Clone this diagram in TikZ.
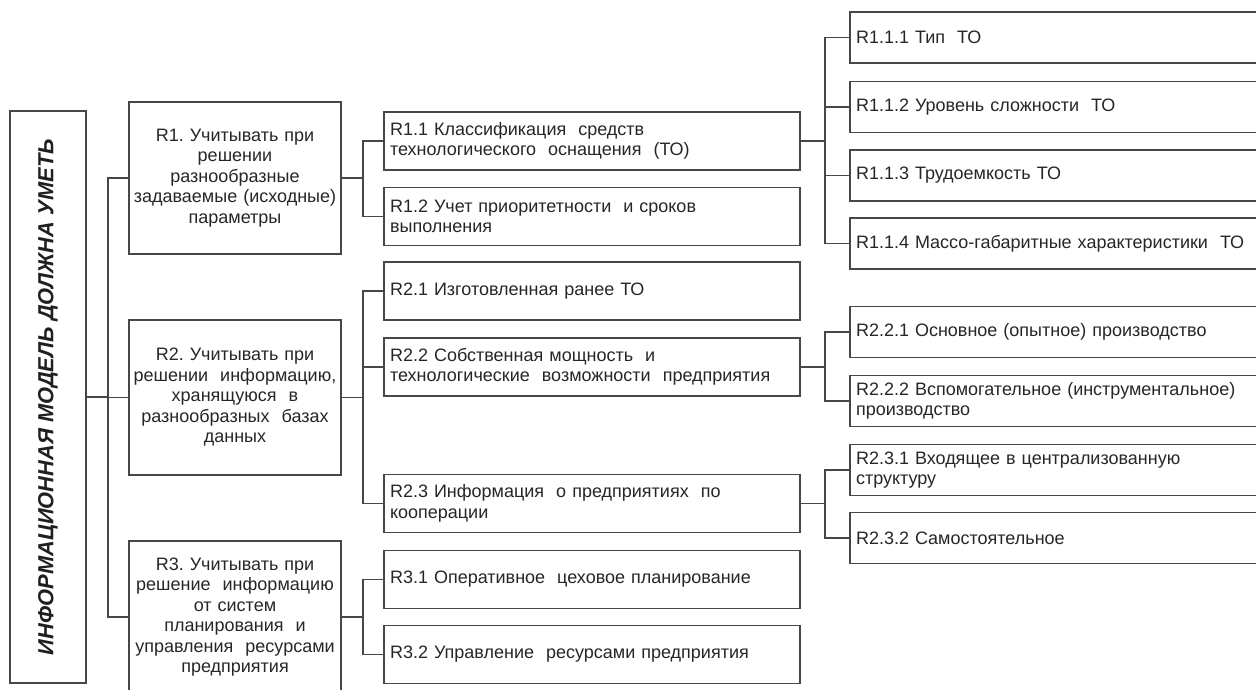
\documentclass[tikz,border=0pt]{standalone}
\usepackage{fontspec}
\setmainfont{Liberation Sans}
\usepackage{graphicx}
\frenchspacing
\begin{document}
\begin{tikzpicture}[x=1pt,y=-1pt,
  ln/.style={line width=1.2pt, draw=black!72},
  basebox/.style={ln, rectangle, inner ysep=0pt, font=\fontsize{18}{20.5}\selectfont, text=black!85},
  topbox/.style={basebox, inner xsep=0pt, align=center, text width=212pt, minimum height=#1},
  midbox/.style={basebox, inner xsep=6pt, align=left, text width=404pt, minimum height=58pt},
  rbox/.style={basebox, inner xsep=6pt, align=left, text width=400pt, minimum height=51pt}]
\useasboundingbox (0,0) rectangle (1256,690);

% root
\node[ln, rectangle, inner sep=0pt, minimum width=76pt, minimum height=572pt, text=black!88] (root) at (48,397)
  {\rotatebox{90}{\resizebox{516pt}{!}{\bfseries\itshape ИНФОРМАЦИОННАЯ МОДЕЛЬ ДОЛЖНА УМЕТЬ}}};

% level 1
\node[topbox=152pt] (r1) at (235,178) {R1. Учитывать при\\решении\\разнообразные\\задаваемые (исходные)\\параметры};
\node[topbox=155pt] (r2) at (235,397.5) {R2. Учитывать при\\решении\ \ информацию,\\хранящуюся\ \ в\\разнообразных\ \ базах\\данных};
\node[topbox=152pt] (r3) at (235,617) {R3. Учитывать при\\решение\ \ информацию\\от систем\\планирования\ \ и\\управления\ \ ресурсами\\предприятия};

% level 2
\node[midbox] (r11) at (592,141) {R1.1 Классификация\ \ средств\\технологического\ \ оснащения\ \ (ТО)};
\node[midbox] (r12) at (592,216.5) {R1.2 Учет приоритетности\ \ и сроков\\выполнения};
\node[midbox] (r21) at (592,291) {R2.1 Изготовленная ранее ТО};
\node[midbox] (r22) at (592,367) {R2.2 Собственная мощность\ \ и\\технологические\ \ возможности\ \ предприятия};
\node[midbox] (r23) at (592,503.5) {R2.3 Информация\ \ о предприятиях\ \ по\\кооперации};
\node[midbox] (r31) at (592,579.5) {R3.1 Оперативное\ \ цеховое планирование};
\node[midbox] (r32) at (592,654.5) {R3.2 Управление\ \ ресурсами предприятия};

% level 3
\node[rbox] (r111) at (1056,37.5) {R1.1.1 Тип\ \ ТО};
\node[rbox] (r112) at (1056,107) {R1.1.2 Уровень сложности\ \ ТО};
\node[rbox] (r113) at (1056,175.5) {R1.1.3 Трудоемкость ТО};
\node[rbox] (r114) at (1056,243.5) {R1.1.4 Массо-габаритные характеристики\ \ ТО};
\node[rbox] (r221) at (1056,332) {R2.2.1 Основное (опытное) производство};
\node[rbox] (r222) at (1056,401) {R2.2.2 Вспомогательное (инструментальное)\\производство};
\node[rbox] (r231) at (1056,470) {R2.3.1 Входящее в централизованную\\структуру};
\node[rbox] (r232) at (1056,538) {R2.3.2 Самостоятельное};

% junctions
\coordinate (j0) at (108,397);
\coordinate (j1) at (363,178);
\coordinate (j2) at (363,397.5);
\coordinate (j3) at (363,617);
\coordinate (j11) at (825,141);
\coordinate (j22) at (825,367);
\coordinate (j23) at (825,503.5);

% connectors
\draw[ln] (root.east |- j0) -- (j0);
\draw[ln] (j0) |- (r1.west);
\draw[ln] (j0) |- (r2.west);
\draw[ln] (j0) |- (r3.west);

\draw[ln] (r1.east) -- (j1);
\draw[ln] (j1) |- (r11.west);
\draw[ln] (j1) |- (r12.west);

\draw[ln] (r2.east) -- (j2);
\draw[ln] (j2) |- (r21.west);
\draw[ln] (j2) |- (r22.west);
\draw[ln] (j2) |- (r23.west);

\draw[ln] (r3.east) -- (j3);
\draw[ln] (j3) |- (r31.west);
\draw[ln] (j3) |- (r32.west);

\draw[ln] (r11.east) -- (j11);
\draw[ln] (j11) |- (r111.west);
\draw[ln] (j11) |- (r112.west);
\draw[ln] (j11) |- (r113.west);
\draw[ln] (j11) |- (r114.west);

\draw[ln] (r22.east) -- (j22);
\draw[ln] (j22) |- (r221.west);
\draw[ln] (j22) |- (r222.west);

\draw[ln] (r23.east) -- (j23);
\draw[ln] (j23) |- (r231.west);
\draw[ln] (j23) |- (r232.west);
\end{tikzpicture}
\end{document}
